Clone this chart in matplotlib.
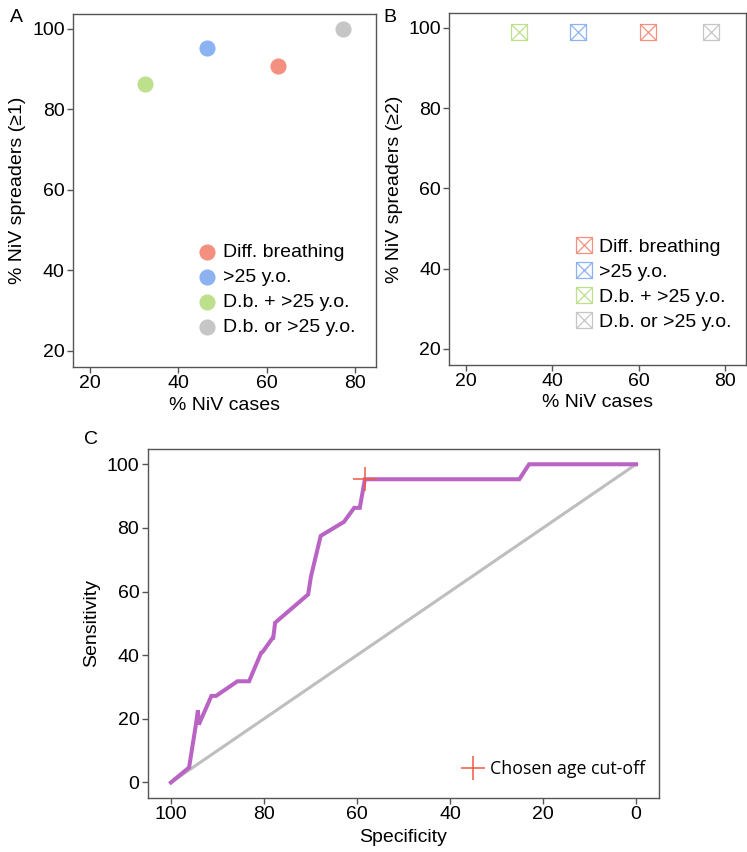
import numpy as np
import matplotlib

matplotlib.use("Agg")
import matplotlib.pyplot as plt
from matplotlib.path import Path
from matplotlib.lines import Line2D

plt.rcParams["font.family"] = ["Liberation Sans", "DejaVu Sans"]
plt.rcParams["font.size"] = 14

# --- data ---
labels = ["Diff. breathing", ">25 y.o.", "D.b. + >25 y.o.", "D.b. or >25 y.o."]
colors = ["#F4907F", "#8DB2F2", "#BDE08C", "#C6C6C6"]

cases_a = [62.5, 46.4, 32.5, 77.3]
spread1 = [90.7, 95.3, 86.2, 99.9]

cases_b = [62.0, 45.9, 32.3, 76.6]
spread2 = [99.0, 99.0, 99.0, 99.0]

spec = [100, 96.1, 94.6, 94.2, 94.0, 91.3, 90.3, 85.7, 83.2, 80.6, 80.3, 78.1,
        78.0, 77.6, 70.5, 69.9, 67.8, 62.8, 60.6, 59.4, 58.3, 25.1, 23.0, 0]
sens = [0, 4.7, 18.5, 22.7, 18.2, 27.2, 27.2, 31.8, 31.8, 40.8, 41.0, 45.5,
        45.5, 50.2, 59.1, 64.7, 77.5, 81.9, 86.3, 86.3, 95.3, 95.3, 100, 100]
cutoff_spec, cutoff_sens = 58.3, 95.3

# square with an X inside (R pch 7)
box_x = Path([(-1, -1), (1, -1), (1, 1), (-1, 1), (-1, -1),
              (-1, -1), (1, 1), (-1, 1), (1, -1)],
             [Path.MOVETO, Path.LINETO, Path.LINETO, Path.LINETO, Path.CLOSEPOLY,
              Path.MOVETO, Path.LINETO, Path.MOVETO, Path.LINETO])

SPINE = "#555555"


def style(ax):
    for s in ax.spines.values():
        s.set_color(SPINE)
        s.set_linewidth(1.0)
    ax.tick_params(direction="out", length=4, width=1, color=SPINE,
                   labelsize=14, pad=2)


fig = plt.figure(figsize=(7.47, 8.52), dpi=100)

# === A ===
axA = fig.add_axes([0.0977, 0.5692, 0.4056, 0.4143])
for x, y, c, l in zip(cases_a, spread1, colors, labels):
    axA.scatter(x, y, s=135, color=c, linewidths=0, label=l, zorder=3)
axA.set_xlim(16.15, 84.75)
axA.set_ylim(16.0, 103.7)
axA.set_xticks([20, 40, 60, 80])
axA.set_yticks([20, 40, 60, 80, 100])
axA.set_xlabel("% NiV cases", labelpad=3)
axA.set_ylabel("% NiV spreaders (\u22651)", labelpad=4)
style(axA)
axA.legend(loc="lower right", bbox_to_anchor=(0.965, 0.06), frameon=False,
           handlelength=1.0, handletextpad=0.35, labelspacing=0.38,
           borderpad=0, fontsize=14)
fig.text(0.013, 0.990, "A", fontsize=14, va="top")

# === B ===
axB = fig.add_axes([0.6015, 0.5716, 0.3972, 0.413])
for x, y, c, l in zip(cases_b, spread2, colors, labels):
    axB.plot(x, y, marker=box_x, ms=11.5, mew=0.9, color=c, mfc="none",
             ls="none", label=l, zorder=3)
axB.set_xlim(16.15, 84.75)
axB.set_ylim(16.0, 103.7)
axB.set_xticks([20, 40, 60, 80])
axB.set_yticks([20, 40, 60, 80, 100])
axB.set_xlabel("% NiV cases", labelpad=3)
axB.set_ylabel("% NiV spreaders (\u22652)", labelpad=4)
style(axB)
axB.legend(loc="lower right", bbox_to_anchor=(0.985, 0.07), frameon=False,
           handlelength=1.0, handletextpad=0.3, labelspacing=0.38,
           borderpad=0, fontsize=14)
fig.text(0.513, 0.990, "B", fontsize=14, va="top")

# === C ===
axC = fig.add_axes([0.1977, 0.0637, 0.6849, 0.4093])
axC.plot([100, 0], [0, 100], color="#BEBEBE", lw=2.2, zorder=2)
axC.plot(spec, sens, color="#B964C4", lw=2.9, zorder=3, solid_joinstyle="miter")
axC.plot(cutoff_spec, cutoff_sens, marker="+", ms=17, mew=1.1,
         color="#EE5A45", ls="none", zorder=4)
axC.set_xlim(105, -5)
axC.set_ylim(-4.8, 104.8)
axC.set_xticks([100, 80, 60, 40, 20, 0])
axC.set_yticks([0, 20, 40, 60, 80, 100])
axC.set_xlabel("Specificity", labelpad=4)
axC.set_ylabel("Sensitivity", labelpad=5)
style(axC)
h = Line2D([], [], marker="+", ms=17, mew=1.1, color="#EE5A45", ls="none")
axC.legend([h], ["Chosen age cut-off"], loc="lower right",
           bbox_to_anchor=(0.99, 0.03), frameon=False, handlelength=1.2,
           handletextpad=0.35, borderpad=0,
           prop={"family": ["Open Sans", "DejaVu Sans"], "size": 12.8})
fig.text(0.112, 0.494, "C", fontsize=14, va="top")

fig.savefig("out.png", dpi=100)
